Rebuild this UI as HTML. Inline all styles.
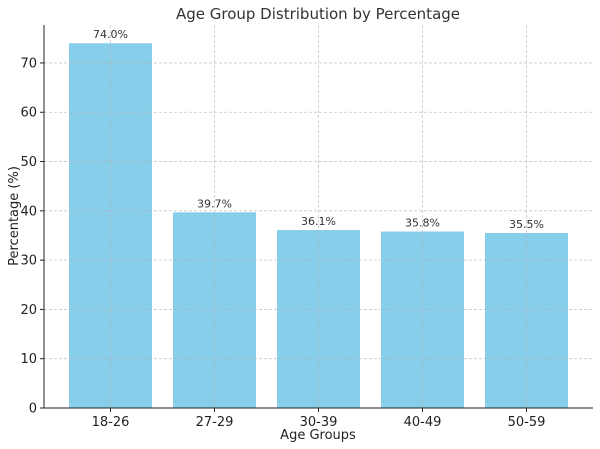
<!DOCTYPE html>
<html><head><meta charset="utf-8">
<style>
html,body{margin:0;padding:0;background:#fff;}
svg{display:block;font-family:"DejaVu Sans","Liberation Sans",sans-serif;}
</style></head>
<body>
<svg id="chart" width="600" height="449" viewBox="0 0 600 449"></svg>
<script>
const categories = ["18-26","27-29","30-39","40-49","50-59"];
const values = [74.0, 39.7, 36.1, 35.8, 35.5];
const yTicks = [0,10,20,30,40,50,60,70];

const svg = document.getElementById('chart');
const NS = 'http://www.w3.org/2000/svg';
const L = 44, R = 593, T = 25, B = 408;
const yMax = 77.7;
const y = v => B - v / yMax * (B - T);
const step = 104, x0 = 110.5;
const x = i => x0 + i * step;
const bw = 83;

function mk(tag, attrs, text){
  const e = document.createElementNS(NS, tag);
  for (const k in attrs) e.setAttribute(k, attrs[k]);
  if (text !== undefined) e.textContent = text;
  svg.appendChild(e);
  return e;
}

// bars
values.forEach((v,i) => {
  const r = mk('rect', {x: x(i)-bw/2, y: y(v), width: bw, height: B - y(v), fill: '#87CEEB'});
  
  
});

// grid
yTicks.forEach(t => {
  const g = mk('line', {x1: L, x2: R, y1: y(t), y2: y(t), stroke: '#b0b0b0', 'stroke-width': 0.8, 'stroke-dasharray': '3,2', opacity: 0.7});
  
  
});
categories.forEach((c,i) => {
  const g = mk('line', {x1: x(i), x2: x(i), y1: T, y2: B, stroke: '#b0b0b0', 'stroke-width': 0.8, 'stroke-dasharray': '3,2', opacity: 0.7});
  
  
});

// value labels
values.forEach((v,i) => {
  const t = mk('text', {x: x(i), y: y(v) - 5, 'text-anchor': 'middle', 'font-size': 11, fill: '#333'}, v.toFixed(1) + '%');
  
  
});

// axes
const ya = mk('line', {x1: L, x2: L, y1: T, y2: B, stroke: '#222', 'stroke-width': 1});


const xa = mk('line', {x1: L, x2: R, y1: B, y2: B, stroke: '#222', 'stroke-width': 1});



// y ticks
yTicks.forEach(t => {
  mk('line', {x1: L-4, x2: L, y1: y(t), y2: y(t), stroke: '#222'});
  const lb = mk('text', {x: L-7, y: y(t)+4.5, 'text-anchor': 'end', 'font-size': 13, fill: '#222'}, String(t));
  
  
});
// x ticks
categories.forEach((c,i) => {
  mk('line', {x1: x(i), x2: x(i), y1: B, y2: B+4, stroke: '#222'});
  const lb = mk('text', {x: x(i), y: B+18, 'text-anchor': 'middle', 'font-size': 13, fill: '#222'}, c);
  
  
});

// titles
const tt = mk('text', {x: 318, y: 19, 'text-anchor': 'middle', 'font-size': 15, fill: '#333'}, 'Age Group Distribution by Percentage');


const xt = mk('text', {x: 318, y: 439, 'text-anchor': 'middle', 'font-size': 13, fill: '#222'}, 'Age Groups');


const yt = mk('text', {x: 18, y: 216, 'text-anchor': 'middle', 'font-size': 13, fill: '#222', transform: 'rotate(-90 18 216)'}, 'Percentage (%)');


</script>
</body></html>
